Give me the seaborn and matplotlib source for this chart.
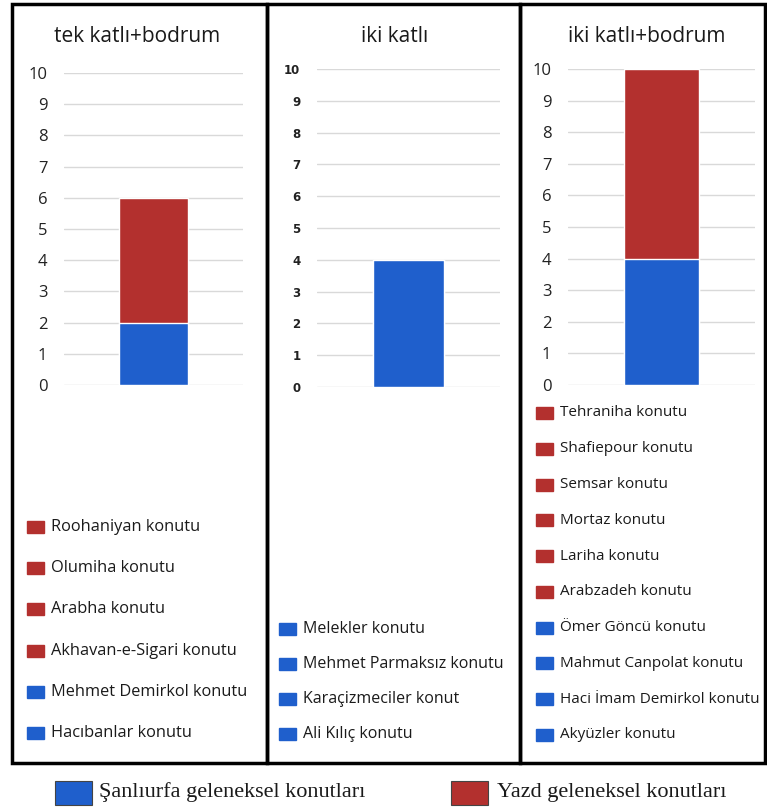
import matplotlib
matplotlib.use("Agg")
import matplotlib.pyplot as plt
from matplotlib.patches import Rectangle
import pandas as pd
import seaborn as sns

# data
panels = ["tek katlı+bodrum", "iki katlı", "iki katlı+bodrum"]
sanliurfa = [2, 4, 4]
yazd = [4, 0, 6]
yazd_houses = [
    ["Roohaniyan konutu", "Olumiha konutu", "Arabha konutu", "Akhavan-e-Sigari konutu"],
    [],
    ["Tehraniha konutu", "Shafiepour konutu", "Semsar konutu", "Mortaz konutu",
     "Lariha konutu", "Arabzadeh konutu"],
]
sanliurfa_houses = [
    ["Mehmet Demirkol konutu", "Hacıbanlar konutu"],
    ["Melekler konutu", "Mehmet Parmaksız konutu", "Karaçizmeciler konut", "Ali Kılıç konutu"],
    ["Ömer Göncü konutu", "Mahmut Canpolat konutu", "Haci İmam Demirkol konutu", "Akyüzler konutu"],
]
series_names = ["Şanlıurfa geleneksel konutları", "Yazd geleneksel konutları"]
yticks = list(range(0, 11))

BLUE = "#1f5fcc"
RED = "#b3302e"

sns.set_style("white")
plt.rcParams["font.family"] = ["Open Sans", "DejaVu Sans"]

W, H = 767, 810
fig = plt.figure(figsize=(W / 100, H / 100), dpi=100)

def fx(px):
    return px / W

def fy(py):
    return 1 - py / H

# axes boxes in pixels: left, right, y(10), y(0)
boxes = [(64, 243, 73, 385), (317, 500, 69, 387), (568, 755, 69, 385)]
bar_w = [0.385, 0.39, 0.40]
tick_fs = [12, 8.5, 12]
tick_w = ["normal", "bold", "normal"]
tick_font = ["Open Sans", "DejaVu Sans", "Open Sans"]
title_x = [137, 395, 647]
legend_fs = [11.8, 11.5, 11]

for i, name in enumerate(panels):
    l, r, t, b = boxes[i]
    ax = fig.add_axes([fx(l), fy(b), fx(r - l), fy(t) - fy(b)])
    df = pd.DataFrame({"panel": [name], "total": [sanliurfa[i] + yazd[i]],
                       "sanliurfa": [sanliurfa[i]]})
    sns.barplot(data=df, x="panel", y="total", color=RED, saturation=1,
                width=bar_w[i], ax=ax, zorder=3)
    sns.barplot(data=df, x="panel", y="sanliurfa", color=BLUE, saturation=1,
                width=bar_w[i], ax=ax, zorder=3)
    ax.set_ylim(0, 10)
    ax.set_xlim(-0.5, 0.5)
    ax.set_yticks(yticks)
    ax.set_yticklabels([str(v) for v in yticks], fontsize=tick_fs[i],
                       fontweight=tick_w[i], family=tick_font[i], color="#222222")
    ax.set_xticks([])
    ax.set_xlabel("")
    ax.set_ylabel("")
    ax.tick_params(axis="y", length=0, pad=12)
    ax.grid(axis="y", color="#d9d9d9", lw=1, zorder=0)
    ax.set_axisbelow(True)
    sns.despine(ax=ax, left=True, bottom=True)
    fig.text(fx(title_x[i]), fy(37), name, ha="center", va="center",
             fontsize=15, color="#1a1a1a")

# per-panel legend lists
legend_layout = [(27, 527, 733), (279, 629, 734), (536, 413, 735)]
for i in range(3):
    x0, ytop, ybot = legend_layout[i]
    items = [(n, RED) for n in yazd_houses[i]] + [(n, BLUE) for n in sanliurfa_houses[i]]
    step = (ybot - ytop) / (len(items) - 1)
    for k, (label, col) in enumerate(items):
        yc = ytop + k * step
        fig.patches.append(Rectangle((fx(x0), fy(yc + 6)), fx(17), fy(yc - 6) - fy(yc + 6),
                                     transform=fig.transFigure, color=col, figure=fig))
        fig.text(fx(x0 + 24), fy(yc), label, ha="left", va="center",
                 fontsize=legend_fs[i], color="#1a1a1a")

# panel borders
for l, r in [(12, 267), (267, 520), (520, 765)]:
    fig.patches.append(Rectangle((fx(l), fy(763)), fx(r - l), fy(4) - fy(763),
                                 transform=fig.transFigure, fill=False, ec="black",
                                 lw=2.5, figure=fig))

# bottom legend
for (sx, tx), label, col in zip([(55, 99), (451, 497)], series_names, [BLUE, RED]):
    fig.patches.append(Rectangle((fx(sx), fy(805)), fx(37), fy(781) - fy(805),
                                 transform=fig.transFigure, fc=col, ec="#444444",
                                 lw=0.8, figure=fig))
    fig.text(fx(tx), fy(792), label, ha="left", va="center", fontsize=16,
             family=["Liberation Serif", "DejaVu Serif"], color="#1a1a1a")

fig.savefig("out.png", dpi=100)
